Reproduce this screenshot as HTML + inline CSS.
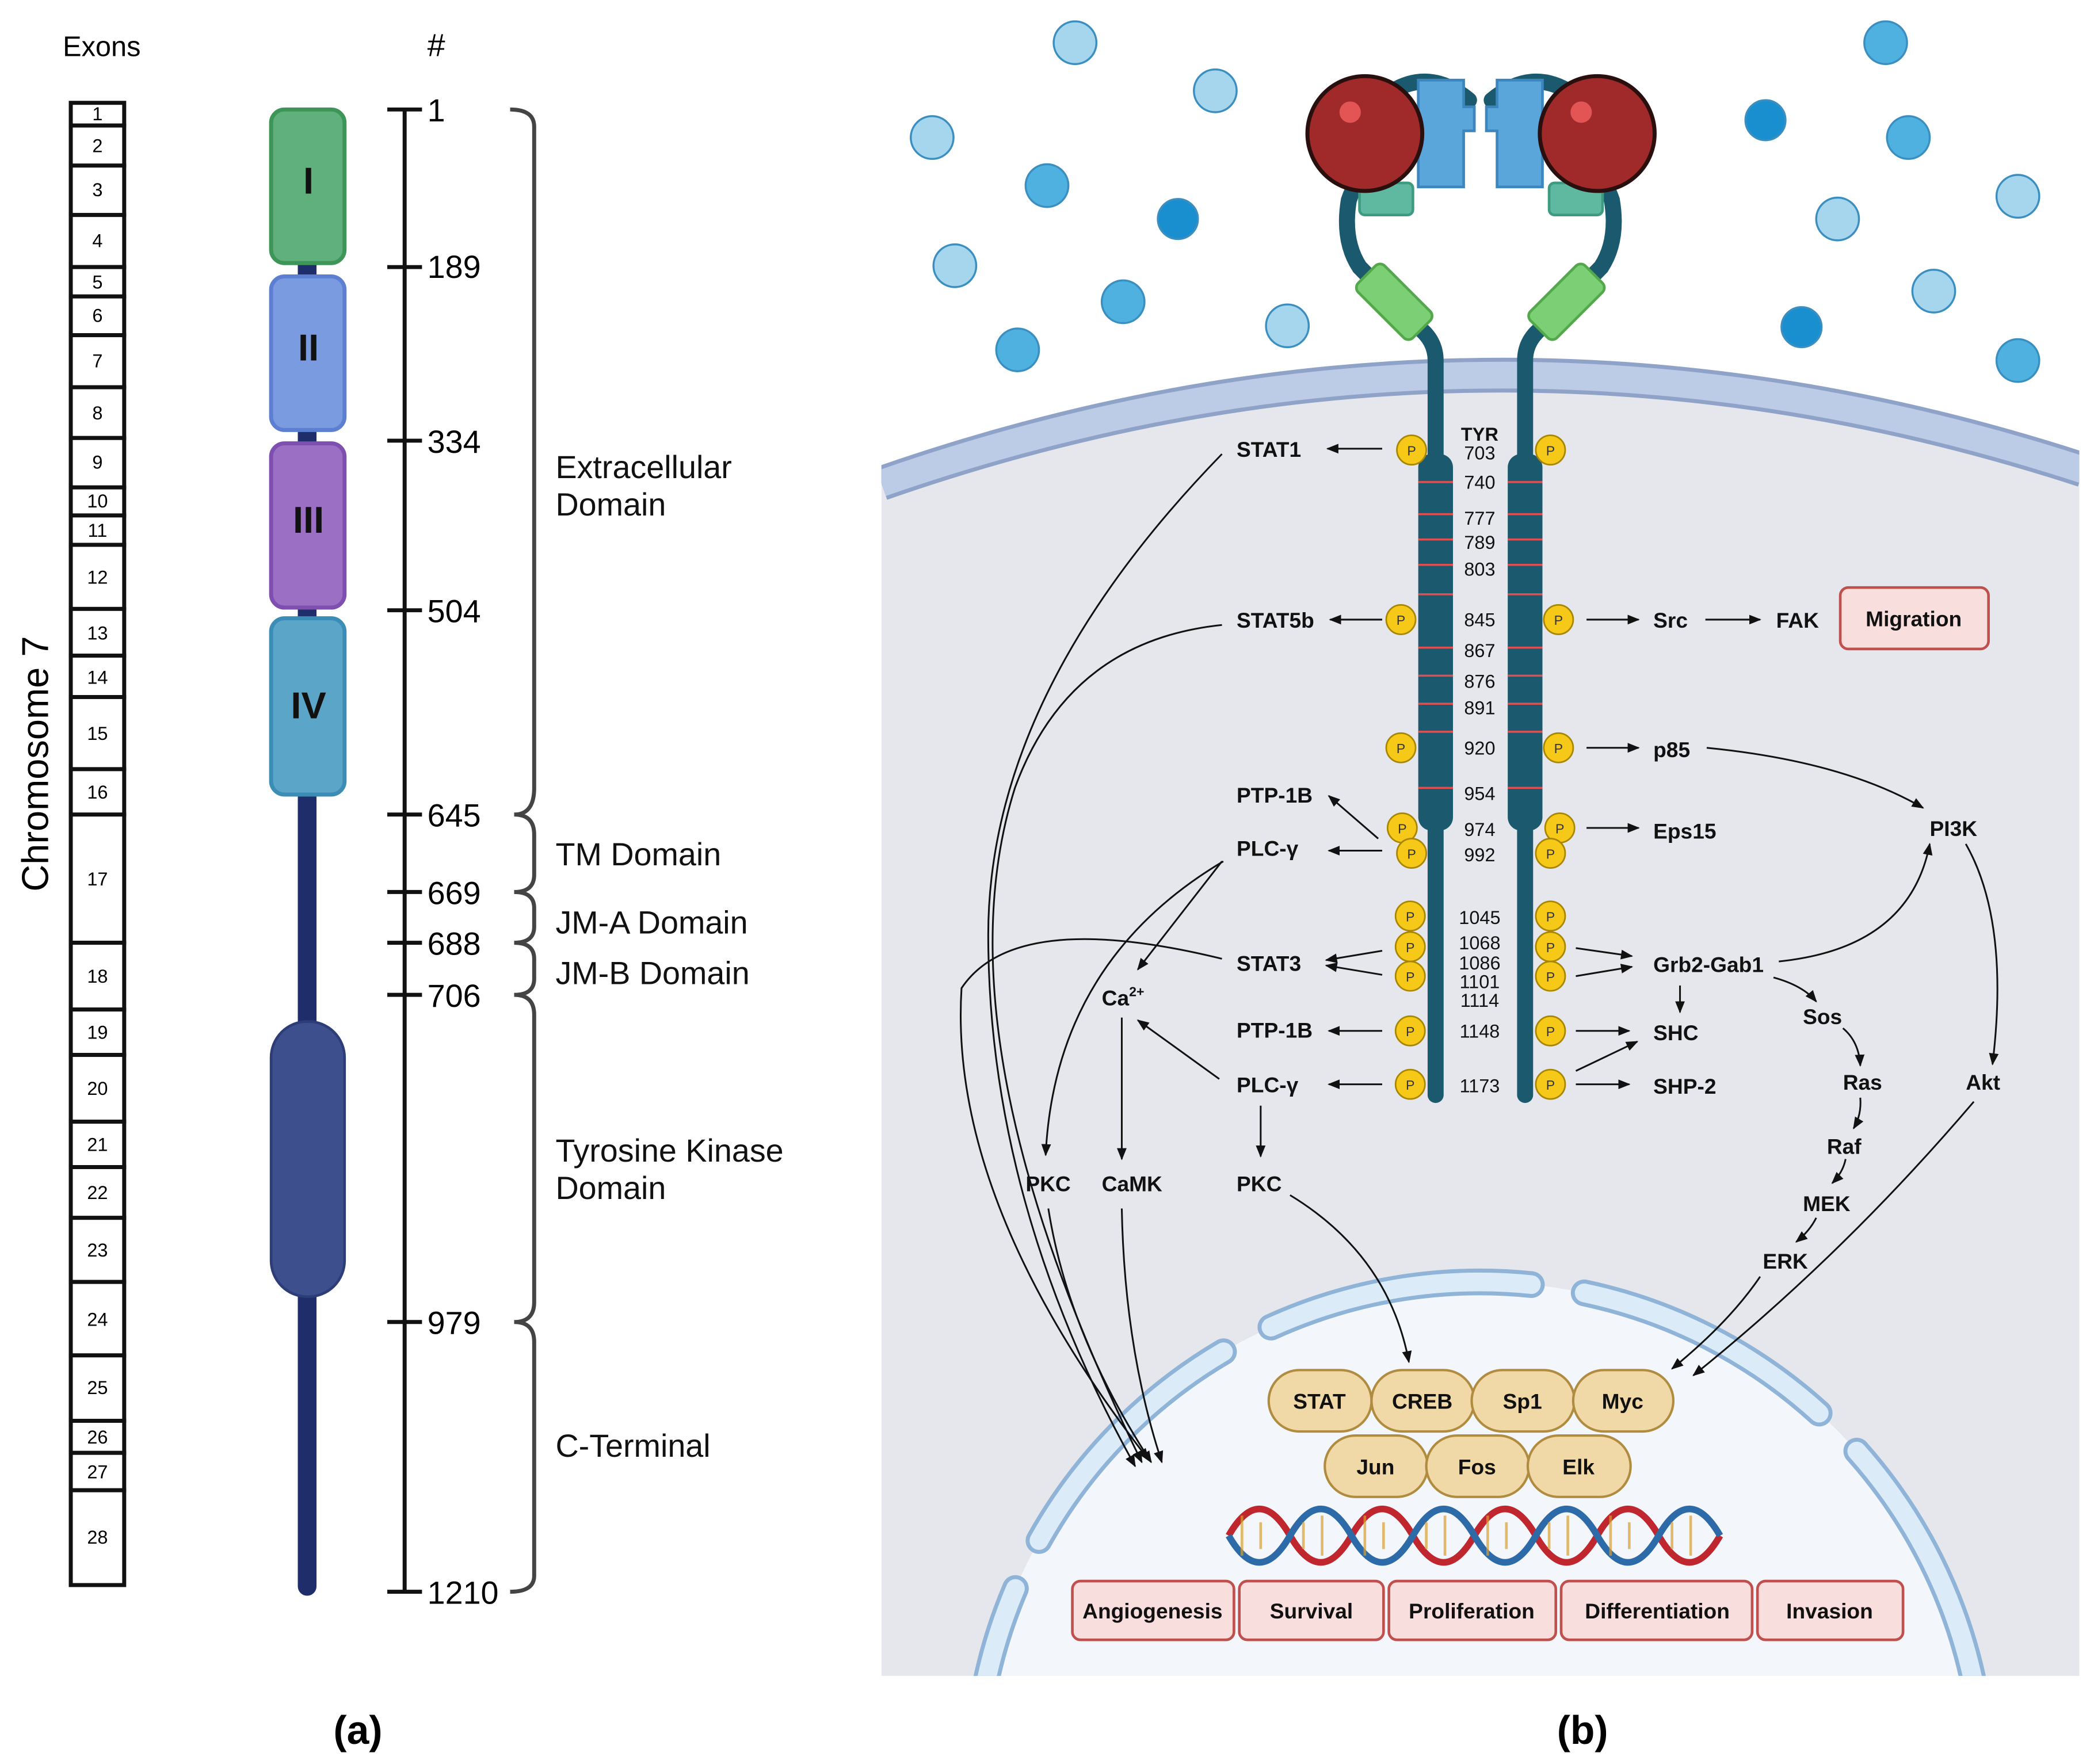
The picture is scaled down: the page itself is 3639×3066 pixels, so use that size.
<!DOCTYPE html>
<html><head><meta charset="utf-8"><style>
html,body{margin:0;padding:0;background:#fff;width:3639px;height:3066px;overflow:hidden}
svg{display:block}
text{font-family:"Liberation Sans",sans-serif}
.b{font-weight:bold;font-size:16px;fill:#111}
.n{font-size:14px;fill:#111}
.l{font-size:24px;fill:#111}
</style></head><body>
<svg width="3639" height="3066" viewBox="0 0 1568 1321" preserveAspectRatio="none" xmlns="http://www.w3.org/2000/svg">
<defs>
<marker id="a" viewBox="0 0 10 10" refX="9" refY="5" markerWidth="7" markerHeight="7" orient="auto-start-reverse"><path d="M0,1 L10,5 L0,9 z" fill="#111"/></marker>
<clipPath id="cp"><rect x="660" y="0" width="897" height="1255"/></clipPath>
</defs>
<rect width="1568" height="1321" fill="#fff"/>
<!-- Panel a -->
<text x="47" y="42" font-size="21">Exons</text>
<text x="320" y="42" font-size="24">#</text>
<g stroke="#111" stroke-width="3" fill="#fff">
<rect x="53" y="77" width="40" height="17"/><rect x="53" y="94" width="40" height="30"/><rect x="53" y="124" width="40" height="37"/><rect x="53" y="161" width="40" height="39"/><rect x="53" y="200" width="40" height="22"/><rect x="53" y="222" width="40" height="29"/><rect x="53" y="251" width="40" height="39"/><rect x="53" y="290" width="40" height="38"/><rect x="53" y="328" width="40" height="37"/><rect x="53" y="365" width="40" height="21"/><rect x="53" y="386" width="40" height="22"/><rect x="53" y="408" width="40" height="48"/><rect x="53" y="456" width="40" height="35"/><rect x="53" y="491" width="40" height="31"/><rect x="53" y="522" width="40" height="54"/><rect x="53" y="576" width="40" height="34"/><rect x="53" y="610" width="40" height="96"/><rect x="53" y="706" width="40" height="50"/><rect x="53" y="756" width="40" height="34"/><rect x="53" y="790" width="40" height="50"/><rect x="53" y="840" width="40" height="34"/><rect x="53" y="874" width="40" height="38"/><rect x="53" y="912" width="40" height="48"/><rect x="53" y="960" width="40" height="55"/><rect x="53" y="1015" width="40" height="49"/><rect x="53" y="1064" width="40" height="24"/><rect x="53" y="1088" width="40" height="28"/><rect x="53" y="1116" width="40" height="71"/>
</g>
<g font-size="14" text-anchor="middle">
<text x="73" y="90">1</text><text x="73" y="114">2</text><text x="73" y="147">3</text><text x="73" y="185">4</text><text x="73" y="216">5</text><text x="73" y="241">6</text><text x="73" y="275">7</text><text x="73" y="314">8</text><text x="73" y="351">9</text><text x="73" y="380">10</text><text x="73" y="402">11</text><text x="73" y="437">12</text><text x="73" y="479">13</text><text x="73" y="512">14</text><text x="73" y="554">15</text><text x="73" y="598">16</text><text x="73" y="663">17</text><text x="73" y="736">18</text><text x="73" y="778">19</text><text x="73" y="820">20</text><text x="73" y="862">21</text><text x="73" y="898">22</text><text x="73" y="941">23</text><text x="73" y="993">24</text><text x="73" y="1044">25</text><text x="73" y="1081">26</text><text x="73" y="1107">27</text><text x="73" y="1156">28</text>
</g>
<text transform="translate(36,572) rotate(-90)" font-size="28" text-anchor="middle">Chromosome 7</text>
<line x1="230" y1="88" x2="230" y2="1188" stroke="#1f2d6b" stroke-width="14" stroke-linecap="round"/>
<rect x="203" y="82" width="55" height="115" rx="10" fill="#5fb07c" stroke="#3d9558" stroke-width="3"/>
<rect x="203" y="207" width="55" height="115" rx="10" fill="#7b9be0" stroke="#5c7fd2" stroke-width="3"/>
<rect x="203" y="332" width="55" height="123" rx="10" fill="#9b6fc4" stroke="#7e4fae" stroke-width="3"/>
<rect x="203" y="463" width="55" height="132" rx="10" fill="#5ba5c9" stroke="#3c8db6" stroke-width="3"/>
<rect x="203" y="765" width="55" height="206" rx="27" fill="#3d4f8c" stroke="#2d3d78" stroke-width="2"/>
<g font-weight="bold" font-size="28" text-anchor="middle" fill="#111"><text x="231" y="145">I</text><text x="231" y="270">II</text><text x="231" y="399">III</text><text x="231" y="538">IV</text></g>
<g stroke="#111" stroke-width="3"><line x1="303" y1="82" x2="303" y2="1192"/>
<line x1="290" y1="82" x2="316" y2="82"/><line x1="290" y1="200" x2="316" y2="200"/><line x1="290" y1="330" x2="316" y2="330"/><line x1="290" y1="457" x2="316" y2="457"/><line x1="290" y1="610" x2="316" y2="610"/><line x1="290" y1="668" x2="316" y2="668"/><line x1="290" y1="706" x2="316" y2="706"/><line x1="290" y1="745" x2="316" y2="745"/><line x1="290" y1="990" x2="316" y2="990"/><line x1="290" y1="1192" x2="316" y2="1192"/></g>
<g font-size="24"><text x="320" y="91">1</text><text x="320" y="208">189</text><text x="320" y="339">334</text><text x="320" y="466">504</text><text x="320" y="619">645</text><text x="320" y="677">669</text><text x="320" y="715">688</text><text x="320" y="754">706</text><text x="320" y="999">979</text><text x="320" y="1201">1210</text></g>
<g fill="none" stroke="#444" stroke-width="3">
<path d="M382,82 Q400,82 400,95 V590 Q400,610 385,610 Q400,610 400,625 V655 Q400,668 385,668 Q400,668 400,680 V694 Q400,706 385,706 Q400,706 400,718 V733 Q400,745 385,745 Q400,745 400,760 V975 Q400,990 385,990 Q400,990 400,1005 V1180 Q400,1192 382,1192"/>
</g>
<g font-size="24" fill="#111"><text x="416" y="358">Extracellular</text><text x="416" y="386">Domain</text><text x="416" y="648">TM Domain</text><text x="416" y="699">JM-A Domain</text><text x="416" y="737">JM-B Domain</text><text x="416" y="870">Tyrosine Kinase</text><text x="416" y="898">Domain</text><text x="416" y="1091">C-Terminal</text></g>
<text x="268" y="1306" font-family="Liberation Serif,serif" font-weight="bold" font-size="30" text-anchor="middle">(a)</text>
<text x="1185" y="1306" font-family="Liberation Serif,serif" font-weight="bold" font-size="30" text-anchor="middle">(b)</text>
<!-- Panel b -->
<g clip-path="url(#cp)">
<path d="M660,355 Q1110,200 1560,345 V1255 H660 Z" fill="#e6e7ec"/>
<path d="M660,362 Q1110,205 1560,352" fill="none" stroke="#8fa3c8" stroke-width="26"/>
<path d="M660,362 Q1110,205 1560,352" fill="none" stroke="#bccbe6" stroke-width="20"/>
<circle cx="1108" cy="1338" r="378" fill="#f3f6fb"/>
<circle cx="1108" cy="1338" r="378" fill="none" stroke="#8fb4d8" stroke-width="20" stroke-dasharray="200 40" stroke-linecap="round" stroke-dashoffset="60"/>
<circle cx="1108" cy="1338" r="378" fill="none" stroke="#dcebf8" stroke-width="14" stroke-dasharray="200 40" stroke-linecap="round" stroke-dashoffset="60"/>
</g>
<!-- ligands -->
<g stroke="#3b8fc0" stroke-width="1.5">
<circle cx="805" cy="32" r="16" fill="#a6d6ee"/><circle cx="910" cy="68" r="16" fill="#a6d6ee"/><circle cx="698" cy="103" r="16" fill="#a6d6ee"/><circle cx="784" cy="139" r="16" fill="#4fb1df"/><circle cx="882" cy="164" r="15" fill="#1a8fd0"/><circle cx="715" cy="199" r="16" fill="#a6d6ee"/><circle cx="841" cy="226" r="16" fill="#4fb1df"/><circle cx="964" cy="244" r="16" fill="#a6d6ee"/><circle cx="762" cy="262" r="16" fill="#4fb1df"/>
<circle cx="1412" cy="32" r="16" fill="#4fb1df"/><circle cx="1322" cy="90" r="15" fill="#1a8fd0"/><circle cx="1429" cy="103" r="16" fill="#4fb1df"/><circle cx="1511" cy="147" r="16" fill="#a6d6ee"/><circle cx="1376" cy="164" r="16" fill="#a6d6ee"/><circle cx="1448" cy="218" r="16" fill="#a6d6ee"/><circle cx="1349" cy="245" r="15" fill="#1a8fd0"/><circle cx="1511" cy="270" r="16" fill="#4fb1df"/>
</g>
<!-- receptor -->
<g fill="none" stroke="#1b5a6e" stroke-width="12" stroke-linecap="round">
<path d="M1075,820 V270 Q1075,255 1062,245 L1018,200 Q1005,180 1010,150 Q1020,120 1050,115"/>
<path d="M1142,820 V270 Q1142,255 1155,245 L1199,200 Q1212,180 1207,150 Q1197,120 1167,115"/>
<path d="M1040,70 Q1070,50 1100,75"/><path d="M1177,70 Q1147,50 1117,75"/>
</g>
<rect x="1062" y="340" width="26" height="282" rx="10" fill="#1b5a6e"/>
<rect x="1129" y="340" width="26" height="282" rx="10" fill="#1b5a6e"/>
<g stroke="#e05050" stroke-width="1.5">
<line x1="1062" y1="361" x2="1088" y2="361"/><line x1="1062" y1="385" x2="1088" y2="385"/><line x1="1062" y1="404" x2="1088" y2="404"/><line x1="1062" y1="423" x2="1088" y2="423"/><line x1="1062" y1="445" x2="1088" y2="445"/><line x1="1062" y1="485" x2="1088" y2="485"/><line x1="1062" y1="506" x2="1088" y2="506"/><line x1="1062" y1="527" x2="1088" y2="527"/><line x1="1062" y1="548" x2="1088" y2="548"/><line x1="1062" y1="590" x2="1088" y2="590"/>
<line x1="1129" y1="361" x2="1155" y2="361"/><line x1="1129" y1="385" x2="1155" y2="385"/><line x1="1129" y1="404" x2="1155" y2="404"/><line x1="1129" y1="423" x2="1155" y2="423"/><line x1="1129" y1="445" x2="1155" y2="445"/><line x1="1129" y1="485" x2="1155" y2="485"/><line x1="1129" y1="506" x2="1155" y2="506"/><line x1="1129" y1="527" x2="1155" y2="527"/><line x1="1129" y1="548" x2="1155" y2="548"/><line x1="1129" y1="590" x2="1155" y2="590"/>
</g>
<g fill="#7ccf74" stroke="#52a84a" stroke-width="2">
<rect x="1015" y="212" width="58" height="28" rx="5" transform="rotate(45 1044 226)"/>
<rect x="1144" y="212" width="58" height="28" rx="5" transform="rotate(-45 1173 226)"/>
</g>
<g fill="#5fb9a0" stroke="#3e9a80" stroke-width="2"><rect x="1018" y="137" width="40" height="24" rx="4"/><rect x="1160" y="137" width="40" height="24" rx="4"/></g>
<g fill="#5aa6db" stroke="#3c86bf" stroke-width="2">
<path d="M1062,60 H1096 V80 H1104 V98 H1096 V140 H1062 Z"/>
<path d="M1155,60 H1121 V80 H1113 V98 H1121 V140 H1155 Z"/>
</g>
<circle cx="1022" cy="100" r="43" fill="#a02a2a" stroke="#2a0f0f" stroke-width="3"/>
<circle cx="1196" cy="100" r="43" fill="#a02a2a" stroke="#2a0f0f" stroke-width="3"/>
<circle cx="1011" cy="84" r="8" fill="#e35555"/><circle cx="1184" cy="84" r="8" fill="#e35555"/>
<!-- residue numbers -->
<g class="n" text-anchor="middle" font-size="13">
<text x="1108" y="330" font-weight="bold">TYR</text><text x="1108" y="344">703</text><text x="1108" y="366">740</text><text x="1108" y="393">777</text><text x="1108" y="411">789</text><text x="1108" y="431">803</text><text x="1108" y="469">845</text><text x="1108" y="492">867</text><text x="1108" y="515">876</text><text x="1108" y="535">891</text><text x="1108" y="565">920</text><text x="1108" y="599">954</text><text x="1108" y="626">974</text><text x="1108" y="645">992</text><text x="1108" y="692">1045</text><text x="1108" y="711">1068</text><text x="1108" y="726">1086</text><text x="1108" y="740">1101</text><text x="1108" y="754">1114</text><text x="1108" y="777">1148</text><text x="1108" y="818">1173</text>
</g>
<!-- P circles -->
<g fill="#f6c919" stroke="#a88600" stroke-width="1.2">
<circle cx="1057" cy="337" r="11"/><circle cx="1049" cy="464" r="11"/><circle cx="1049" cy="560" r="11"/><circle cx="1050" cy="620" r="11"/><circle cx="1057" cy="639" r="11"/><circle cx="1056" cy="686" r="11"/><circle cx="1056" cy="709" r="11"/><circle cx="1056" cy="731" r="11"/><circle cx="1056" cy="772" r="11"/><circle cx="1056" cy="812" r="11"/>
<circle cx="1161" cy="337" r="11"/><circle cx="1167" cy="464" r="11"/><circle cx="1167" cy="560" r="11"/><circle cx="1168" cy="620" r="11"/><circle cx="1161" cy="639" r="11"/><circle cx="1161" cy="686" r="11"/><circle cx="1161" cy="709" r="11"/><circle cx="1161" cy="731" r="11"/><circle cx="1161" cy="772" r="11"/><circle cx="1161" cy="812" r="11"/>
</g>
<g font-size="10" text-anchor="middle" fill="#333">
<text x="1057" y="341">P</text><text x="1049" y="468">P</text><text x="1049" y="564">P</text><text x="1050" y="624">P</text><text x="1057" y="643">P</text><text x="1056" y="690">P</text><text x="1056" y="713">P</text><text x="1056" y="735">P</text><text x="1056" y="776">P</text><text x="1056" y="816">P</text>
<text x="1161" y="341">P</text><text x="1167" y="468">P</text><text x="1167" y="564">P</text><text x="1168" y="624">P</text><text x="1161" y="643">P</text><text x="1161" y="690">P</text><text x="1161" y="713">P</text><text x="1161" y="735">P</text><text x="1161" y="776">P</text><text x="1161" y="816">P</text>
</g>
<!-- labels -->
<g class="b">
<text x="926" y="342">STAT1</text><text x="926" y="470">STAT5b</text><text x="926" y="601">PTP-1B</text><text x="926" y="641">PLC-γ</text><text x="926" y="727">STAT3</text><text x="825" y="753">Ca<tspan font-size="10" dy="-7">2+</tspan></text><text x="926" y="777">PTP-1B</text><text x="926" y="818">PLC-γ</text><text x="768" y="892">PKC</text><text x="825" y="892">CaMK</text><text x="926" y="892">PKC</text>
<text x="1238" y="470">Src</text><text x="1330" y="470">FAK</text><text x="1238" y="567">p85</text><text x="1238" y="628">Eps15</text><text x="1445" y="626">PI3K</text><text x="1238" y="728">Grb2-Gab1</text><text x="1238" y="779">SHC</text><text x="1238" y="819">SHP-2</text><text x="1350" y="767">Sos</text><text x="1380" y="816">Ras</text><text x="1368" y="864">Raf</text><text x="1350" y="907">MEK</text><text x="1320" y="950">ERK</text><text x="1472" y="816">Akt</text>
</g>
<rect x="1378" y="440" width="111" height="46" rx="6" fill="#f9dede" stroke="#c0504d" stroke-width="2"/>
<text x="1433" y="469" class="b" text-anchor="middle">Migration</text>
<!-- arrows -->
<g fill="none" stroke="#111" stroke-width="1.3" marker-end="url(#a)">
<line x1="1035" y1="336" x2="994" y2="336"/><line x1="1035" y1="464" x2="996" y2="464"/><line x1="1032" y1="628" x2="995" y2="596"/><line x1="1035" y1="637" x2="995" y2="637"/>
<line x1="1035" y1="712" x2="993" y2="719"/><line x1="1035" y1="730" x2="993" y2="723"/><line x1="1035" y1="772" x2="995" y2="772"/><line x1="1035" y1="812" x2="995" y2="812"/>
<line x1="1188" y1="464" x2="1227" y2="464"/><line x1="1277" y1="464" x2="1318" y2="464"/><line x1="1188" y1="560" x2="1227" y2="560"/><line x1="1188" y1="620" x2="1227" y2="620"/>
<line x1="1180" y1="710" x2="1222" y2="716"/><line x1="1180" y1="731" x2="1222" y2="724"/><line x1="1180" y1="772" x2="1220" y2="772"/><line x1="1180" y1="802" x2="1226" y2="780"/><line x1="1180" y1="812" x2="1220" y2="812"/>
<line x1="1258" y1="738" x2="1258" y2="758"/>
<path d="M1278,560 Q1380,570 1440,605"/>
<path d="M1332,720 Q1430,710 1445,632"/>
<path d="M1328,732 Q1350,738 1360,750"/>
<path d="M1380,770 Q1392,780 1393,798"/><path d="M1393,822 Q1394,835 1388,845"/><path d="M1382,868 Q1380,878 1372,886"/><path d="M1360,912 Q1355,922 1345,930"/>
<path d="M1472,632 Q1505,690 1492,797"/>
<path d="M1318,956 Q1295,990 1252,1025"/>
<path d="M1478,825 Q1380,940 1268,1030"/>
<line x1="915" y1="645" x2="852" y2="726"/><line x1="913" y1="808" x2="852" y2="764"/>
<line x1="840" y1="762" x2="840" y2="868"/><line x1="944" y1="828" x2="944" y2="866"/>
<path d="M916,645 Q790,720 783,865"/>
<path d="M966,895 Q1040,940 1055,1020"/>
<path d="M915,340 Q740,520 740,700 Q740,900 850,1098"/>
<path d="M915,468 Q800,480 760,590 Q700,780 855,1095"/>
<path d="M915,718 Q760,680 720,740 Q710,900 860,1093"/>
<path d="M785,905 Q800,1000 862,1095"/>
<path d="M840,905 Q842,1010 870,1095"/>
</g>
<!-- transcription factors -->
<g fill="#f0d9a6" stroke="#b08c40" stroke-width="1.8">
<rect x="950" y="1026" width="77" height="46" rx="23"/><rect x="1027" y="1026" width="77" height="46" rx="23"/><rect x="1102" y="1026" width="77" height="46" rx="23"/><rect x="1178" y="1026" width="75" height="46" rx="23"/>
<rect x="992" y="1075" width="77" height="46" rx="23"/><rect x="1068" y="1075" width="77" height="46" rx="23"/><rect x="1144" y="1075" width="77" height="46" rx="23"/>
</g>
<g class="b" text-anchor="middle"><text x="988" y="1055">STAT</text><text x="1065" y="1055">CREB</text><text x="1140" y="1055">Sp1</text><text x="1215" y="1055">Myc</text><text x="1030" y="1104">Jun</text><text x="1106" y="1104">Fos</text><text x="1182" y="1104">Elk</text></g>
<!-- DNA -->
<g fill="none" stroke-width="5">
<path d="M920,1150 q23,-40 46,0 t46,0 t46,0 t46,0 t46,0 t46,0 t46,0 t46,0" stroke="#c0262d"/>
<path d="M920,1150 q23,40 46,0 t46,0 t46,0 t46,0 t46,0 t46,0 t46,0 t46,0" stroke="#2d6aa8"/>
</g>
<g stroke="#d9a030" stroke-width="2" opacity=".7">
<path d="M930,1135 v30 M944,1140 v20 M976,1140 v20 M990,1135 v30 M1022,1135 v30 M1036,1140 v20 M1068,1140 v20 M1082,1135 v30 M1114,1135 v30 M1128,1140 v20 M1160,1140 v20 M1174,1135 v30 M1206,1135 v30 M1220,1140 v20 M1252,1140 v20 M1266,1135 v30"/>
</g>
<!-- outcomes -->
<g fill="#f9dede" stroke="#c0504d" stroke-width="2">
<rect x="803" y="1184" width="121" height="44" rx="6"/><rect x="928" y="1184" width="108" height="44" rx="6"/><rect x="1040" y="1184" width="125" height="44" rx="6"/><rect x="1169" y="1184" width="143" height="44" rx="6"/><rect x="1316" y="1184" width="109" height="44" rx="6"/>
</g>
<g class="b" text-anchor="middle"><text x="863" y="1212">Angiogenesis</text><text x="982" y="1212">Survival</text><text x="1102" y="1212">Proliferation</text><text x="1241" y="1212">Differentiation</text><text x="1370" y="1212">Invasion</text></g>
</svg>
</body></html>
